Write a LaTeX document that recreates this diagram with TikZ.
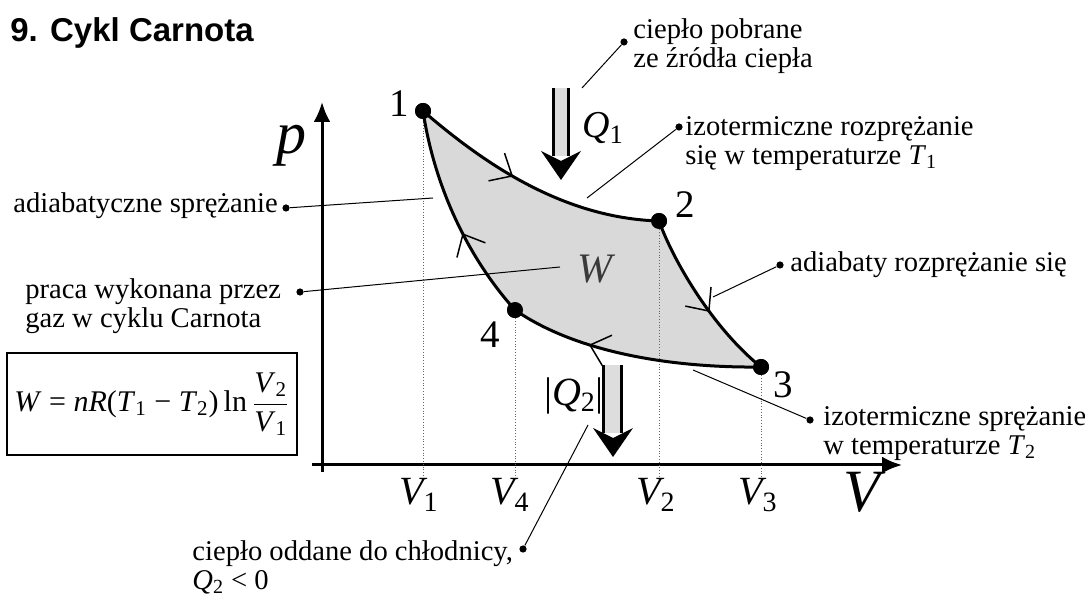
\documentclass[tikz,border=0pt]{standalone}
\usepackage{fontspec}
\setmainfont{Liberation Serif}
\newfontfamily\headfont{Liberation Sans}
\usetikzlibrary{arrows.meta,positioning,decorations.markings}
\definecolor{cCycle}{HTML}{D9D9D9}
\definecolor{cHeat}{HTML}{DDDDDD}
\definecolor{cWork}{HTML}{3A3A3A}

\begin{document}
\begin{tikzpicture}[
  x=0.5pt, y=-0.5pt,
  desc/.style={font=\fontsize{14.3}{14.6}\selectfont, align=left, inner sep=0pt},
  vertex/.style={circle, fill=black, minimum size=8pt, inner sep=0pt},
  cdot/.style={circle, fill=black, minimum size=3.6pt, inner sep=0pt},
  callout/.style={line width=0.5pt},
  curve/.style={line width=1.5pt,
    decoration={markings, mark=at position #1 with
      {\arrow{Straight Barb[length=9pt, width=16pt, line width=0.75pt]}}},
    postaction={decorate}},
  axis/.style={line width=1.5pt, -{Latex[length=10pt, width=8.5pt]}},
  guide/.style={densely dotted, line width=0.4pt, black!60},
  numlab/.style={font=\fontsize{19.5}{19.5}\selectfont, inner sep=0pt},
  vlab/.style={font=\fontsize{20}{20}\selectfont\itshape, inner sep=0pt},
  biglab/.style={font=\fontsize{30}{30}\selectfont\itshape, inner sep=0pt},
  heatline/.style={line width=1.5pt},
]
\path[use as bounding box, fill=white] (0,0) rectangle (1085,597);

% ---- title ----
\node[anchor=base west, inner sep=0pt, font=\headfont\bfseries\fontsize{16.5}{16.5}\selectfont]
  (title) at (10,42) {9. Cykl Carnota};

% ---- axes ----
\coordinate (yfoot) at (322,472);
\coordinate (ytip)  at (322,102);
\coordinate (xfoot) at (312,465);
\coordinate (xtip)  at (902,465);
\coordinate (vbase) at (0,478);
\draw[axis] (yfoot) -- (ytip);
\draw[axis] (xfoot) -- (xtip);
\node[biglab] (plab) at (291,146) {p};
\node[biglab] (Vlab) at (862,492) {V};

% ---- states ----
\node[vertex] (p1) at (423,111) {};
\node[vertex] (p2) at (659,221) {};
\node[vertex] (p3) at (761,367) {};
\node[vertex] (p4) at (515,310) {};

% cycle area
\fill[cCycle] (p1.center) .. controls (480,160) and (560,218) .. (p2.center)
  .. controls (675,265) and (715,330) .. (p3.center)
  .. controls (680,368) and (580,355) .. (p4.center)
  .. controls (470,260) and (435,190) .. (p1.center) -- cycle;

% guides down to the V axis
\draw[guide] (p1.center) -- (p1 |- vbase);
\draw[guide] (p2.center) -- (p2 |- vbase);
\draw[guide] (p3.center) -- (p3 |- vbase);
\draw[guide] (p4.center) -- (p4 |- vbase);

\draw[curve=0.42] (p1.center) .. controls (480,160) and (560,218) .. (p2.center);
\draw[curve=0.58] (p2.center) .. controls (675,265) and (715,330) .. (p3.center);
\draw[curve=0.68] (p3.center) .. controls (680,368) and (580,355) .. (p4.center);
\draw[curve=0.42] (p4.center) .. controls (470,260) and (435,190) .. (p1.center);

\node[vertex] at (p1) {};
\node[vertex] at (p2) {};
\node[vertex] at (p3) {};
\node[vertex] at (p4) {};

\node[numlab] (n1) at (399,104) {1};
\node[numlab] (n2) at (685,205) {2};
\node[numlab] (n3) at (783,385) {3};
\node[numlab] (n4) at (490,335) {4};

\node[vlab] (v1) at (419,495) {V\textsubscript{\upshape 1}};
\node[vlab] (v4) at (510,495) {V\textsubscript{\upshape 4}};
\node[vlab] (v2) at (656,495) {V\textsubscript{\upshape 2}};
\node[vlab] (v3) at (758,495) {V\textsubscript{\upshape 3}};

\node[font=\fontsize{21}{21}\selectfont\itshape, text=cWork, inner sep=0pt]
  (work) at (595,269) {W};

% ---- heat arrows ----
\fill[cHeat] (554,88) rectangle (568,156);
\draw[heatline] (553.5,88) -- (553.5,156);
\draw[heatline] (568.5,88) -- (568.5,156);
\fill (541,151) -- (561,180) -- (581,151) -- (561,161) -- cycle;
\node[vlab, font=\fontsize{19}{19}\selectfont\itshape] (q1) at (603,128) {Q\textsubscript{\upshape 1}};

\fill[cHeat] (604,365) rectangle (621,433);
\draw[heatline] (603.5,365) -- (603.5,433);
\draw[heatline] (621.5,365) -- (621.5,433);
\fill (593,428) -- (613,457) -- (633,428) -- (613,438) -- cycle;
\node[vlab] (q2) at (574,396) {\upshape|\itshape Q\textsubscript{\upshape 2}\upshape|};

% ---- formula ----
\node[draw, line width=0.6pt, minimum width=145pt, minimum height=51pt,
      font=\fontsize{15}{15}\selectfont] (formula) at (152,404)
  {\textit{W} = \textit{nR}(\textit{T}\textsubscript{1} − \textit{T}\textsubscript{2})\,ln\,%
   ${\displaystyle\frac{\mbox{\textit{V}\textsubscript{2}}}{\mbox{\textit{V}\textsubscript{1}}}}$};

% ---- callouts ----
\node[cdot] (d1) at (624,42) {};
\node[desc, anchor=north west] (t1) at (633,18) {ciepło pobrane\\ze źródła ciepła};
\coordinate (c1) at (582,88);
\draw[callout] (d1) -- (c1);

\node[cdot] (d2) at (679,127) {};
\node[desc, anchor=north west] (t2) at (685,116)
  {izotermiczne rozprężanie\\się w temperaturze \textit{T}\textsubscript{1}};
\coordinate (c2) at (587,198);
\draw[callout] (d2) -- (c2);

\node[desc, anchor=base west] (t3) at (13,213) {adiabatyczne sprężanie};
\node[cdot] (d3) at (286,208) {};
\coordinate (c3) at (433,198);
\draw[callout] (d3) -- (c3);

\node[desc, anchor=north west] (t4) at (25,278) {praca wykonana przez\\gaz w cyklu Carnota};
\node[cdot] (d4) at (300,292) {};
\coordinate (c4) at (560,267);
\draw[callout] (d4) -- (c4);

\node[cdot] (d5) at (780,265) {};
\node[desc, anchor=base west] (t5) at (790,272) {adiabaty rozprężanie się};
\coordinate (c5) at (713,297);
\draw[callout] (d5) -- (c5);

\node[cdot] (d6) at (810,420) {};
\node[desc, anchor=north west] (t6) at (823,406)
  {izotermiczne sprężanie\\w temperaturze \textit{T}\textsubscript{2}};
\coordinate (c6) at (693,370);
\draw[callout] (d6) -- (c6);

\node[desc, anchor=north west] (t7) at (192,540)
  {ciepło oddane do chłodnicy,\\\textit{Q}\textsubscript{2} < 0};
\node[cdot] (d7) at (523,549) {};
\coordinate (c7) at (588,425);
\draw[callout] (d7) -- (c7);

\end{tikzpicture}
\end{document}
